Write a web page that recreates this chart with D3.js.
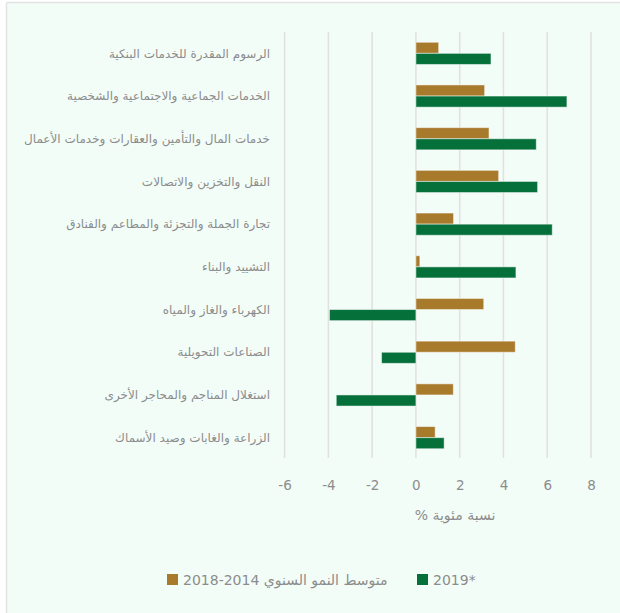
<!DOCTYPE html>
<html><head><meta charset="utf-8">
<script src="https://cdn.jsdelivr.net/npm/d3@7"></script>
<style>
html,body{margin:0;padding:0;background:#fff;}
svg{display:block;}
</style></head>
<body>
<svg id="c" width="620" height="613"></svg>
<script>
const categories = [
  "الرسوم المقدرة للخدمات البنكية",
  "الخدمات الجماعية والاجتماعية والشخصية",
  "خدمات المال والتأمين والعقارات وخدمات الأعمال",
  "النقل والتخزين والاتصالات",
  "تجارة الجملة والتجزئة والمطاعم والفنادق",
  "التشييد والبناء",
  "الكهرباء والغاز والمياه",
  "الصناعات التحويلية",
  "استغلال المناجم والمحاجر الأخرى",
  "الزراعة والغابات وصيد الأسماك"
];
const avgGrowth = [1.04, 3.14, 3.34, 3.78, 1.72, 0.18, 3.1, 4.54, 1.71, 0.88];
const growth2019 = [3.43, 6.9, 5.5, 5.56, 6.23, 4.57, -3.95, -1.57, -3.64, 1.29];
const seriesNames = ["متوسط النمو السنوي 2014-2018", "2019*"];
const tickValues = [-6, -4, -2, 0, 2, 4, 6, 8];
const axisTitle = "نسبة مئوية %";

const colors = ["#a87a2c", "#06703b"];
const font = "'DejaVu Sans', sans-serif";
const textColor = "#8c8c8c";

const svg = d3.select("#c");
svg.append("rect").attr("x", 6.5).attr("y", 2.5).attr("width", 620).attr("height", 620)
  .attr("fill", "#f3fdf8");
svg.append("line").attr("x1", 6.5).attr("x2", 620).attr("y1", 2.5).attr("y2", 2.5)
  .attr("stroke", "#e2e2e2").attr("stroke-width", 1.5);
svg.append("line").attr("x1", 6.5).attr("x2", 6.5).attr("y1", 2.5).attr("y2", 613)
  .attr("stroke", "#e2e2e2").attr("stroke-width", 1.5);

const x = d3.scaleLinear().domain([-6, 8]).range([284.6, 591]);
const y = d3.scaleBand().domain(categories).range([32, 459]).paddingInner(0.48).paddingOuter(0.24);
const sub = d3.scaleBand().domain([0, 1]).range([0, y.bandwidth()]);

svg.append("g").selectAll("line").data(tickValues).join("line")
  .attr("x1", d => x(d)).attr("x2", d => x(d))
  .attr("y1", 32).attr("y2", 458)
  .attr("stroke", "#e1e1e1").attr("stroke-width", 1.6);

const axis = d3.axisBottom(x).tickValues(tickValues).tickSize(0).tickPadding(0)
  .tickFormat(d => d < 0 ? "-" + Math.abs(d) : String(d));
const ag = svg.append("g").attr("transform", "translate(0,480)").call(axis);
ag.select(".domain").remove();
ag.selectAll("text").attr("font-family", font).attr("font-size", 13.5)
  .attr("fill", textColor).attr("dy", "0.71em");

svg.append("text").attr("x", 455).attr("y", 520).attr("text-anchor", "middle")
  .attr("direction", "rtl")
  .attr("font-family", font).attr("font-size", 14).attr("fill", textColor).text(axisTitle);

svg.append("g").selectAll("text").data(categories).join("text")
  .attr("x", 270).attr("y", d => y(d) + y.bandwidth() / 2)
  .attr("dy", "0.35em").attr("text-anchor", "end")
  .attr("font-family", font).attr("font-size", 12).attr("fill", textColor)
  .text(d => d);

const series = [avgGrowth, growth2019];
series.forEach((vals, si) => {
  svg.append("g").selectAll("rect").data(vals).join("rect")
    .attr("x", d => Math.min(x(0), x(d)))
    .attr("width", d => Math.abs(x(d) - x(0)))
    .attr("y", (d, i) => y(categories[i]) + sub(si))
    .attr("height", sub.bandwidth())
    .attr("fill", colors[si])
    .attr("stroke", "#ffffff").attr("stroke-opacity", 0.5).attr("stroke-width", 1);
});

const legend = [
  {name: seriesNames[0], color: colors[0], x: 167},
  {name: seriesNames[1], color: colors[1], x: 417}
];
const lg = svg.append("g");
legend.forEach(l => {
  lg.append("rect").attr("x", l.x).attr("y", 574).attr("width", 11).attr("height", 11).attr("fill", l.color);
  lg.append("text").attr("x", l.x + 16).attr("y", 580).attr("dy", "0.35em")
    .attr("font-family", font).attr("font-size", 14).attr("fill", textColor).text(l.name);
});
</script>
</body></html>
